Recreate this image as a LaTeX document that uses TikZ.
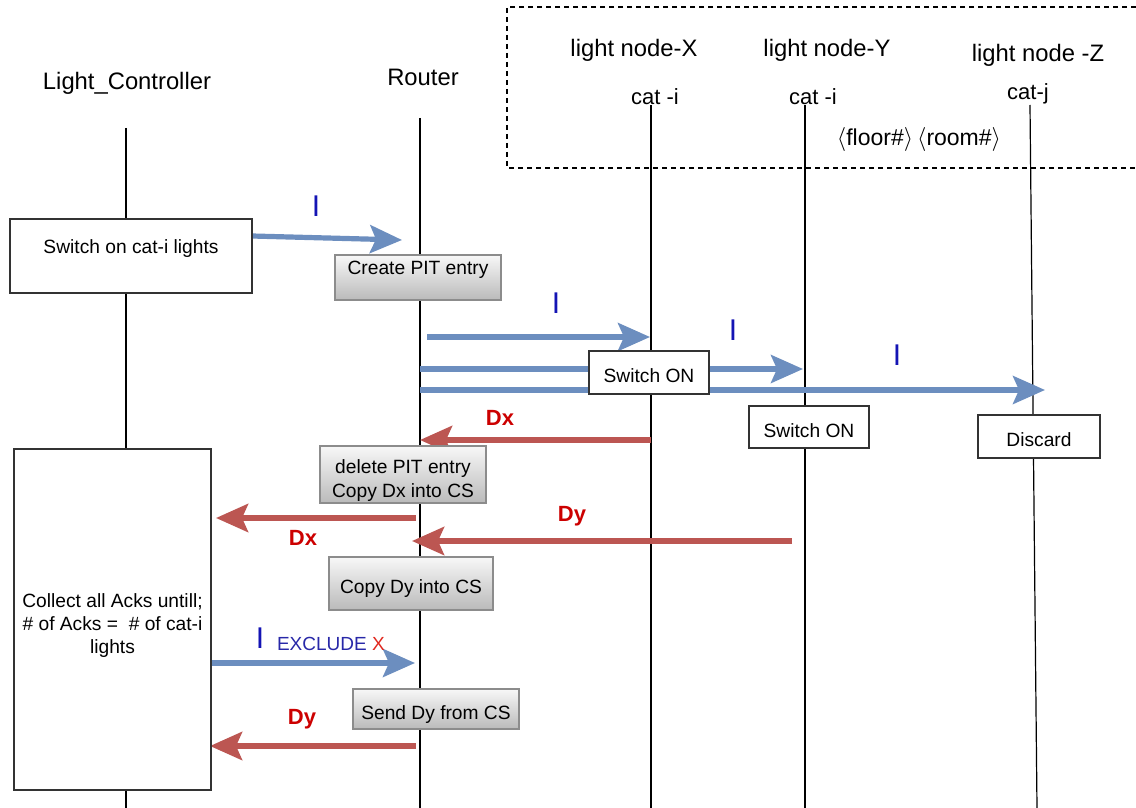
\documentclass[tikz,border=0pt]{standalone}
\usepackage{fontspec}
\setmainfont{Liberation Sans}
\usetikzlibrary{arrows.meta,positioning}
\definecolor{MsgBlue}{HTML}{6C8EBF}
\definecolor{MsgRed}{HTML}{BC5652}
\definecolor{LabRed}{HTML}{CC0000}
\definecolor{LabBlue}{HTML}{1414B4}
\definecolor{ExclBlue}{HTML}{2828A8}
\definecolor{XRed}{HTML}{E0281E}

\begin{document}
\begin{tikzpicture}[x=0.5pt,y=-0.5pt,
  every node/.style={font=\fontsize{9.6}{11.6}\selectfont},
  title/.style={font=\fontsize{11.9}{14}\selectfont},
  catlab/.style={font=\fontsize{11}{13}\selectfont},
  lifeline/.style={black,line width=0.6pt},
  actbox/.style={draw=black!80,line width=0.8pt,fill=white,inner sep=1pt},
  csbox/.style={draw=black!45,line width=0.8pt,top color=black!3,bottom color=black!27,inner sep=1pt},
  lowtext/.style={text height=12pt,text depth=2pt},
  interest/.style={MsgBlue,line width=2.6pt,-{Stealth[length=16pt,width=14pt,inset=3pt]}},
  data/.style={MsgRed,line width=2.9pt,-{Stealth[length=16pt,width=14pt,inset=3pt]}},
  ilab/.style={LabBlue,font=\fontsize{15}{15}\selectfont},
  dlab/.style={LabRed,font=\fontsize{11}{13}\bfseries\selectfont}]
 \useasboundingbox (0,0) rectangle (1136,808);
 % participants
 \draw[line width=0.6pt,dash pattern=on 2.5pt off 2pt] (1136,7) -| (507,168) -- (1136,168);
 \node[title] (tctl) at (127,83) {Light\_Controller};
 \node[title] (trt) at (423,77) {Router};
 \node[title] (tx) at (634,50) {light node-X};
 \node[title] (ty) at (827,50) {light node-Y};
 \node[title] (tz) at (1038,55) {light node -Z};
 \node[catlab] (cx) at (655,97) {cat -i};
 \node[catlab] (cy) at (813,97) {cat -i};
 \node[catlab] (cz) at (1028,94) {cat-j};
 \node[font=\fontsize{11.5}{13}\selectfont] (loc) at (919,140) {$\langle$floor\#$\rangle\,\langle$room\#$\rangle$};
 % lifelines
 \foreach \n/\x/\y in {ctl/126/128,rt/420/118,nx/651/105,ny/805/105}{
   \coordinate (\n-top) at (\x,\y);
   \coordinate (\n-bot) at (\x,808);
   \draw[lifeline] (\n-top) -- (\n-bot);}
 \coordinate (nz-top) at (1030,105);
 \coordinate (nz-bot) at (1037,808);
 \draw[lifeline] (nz-top) -- (nz-bot);
 % message end points
 \foreach \n/\x/\y in {i1a/252/236,i1b/402/240,i2a/427/337,i2b/650/337,
   i3a/420/369,i3b/803/369,i4a/420/390,i4b/1045/390,i5a/211/663,i5b/415/663,
   d1a/651/440,d1b/420/440,d2a/416/518,d2b/216/518,d3a/792/541,d3b/412/541,
   d4a/416/746,d4b/210/746}
   \coordinate (\n) at (\x,\y);
 % interests
 \draw[interest] (i1a) -- (i1b);
 \draw[interest] (i2a) -- (i2b);
 \draw[interest] (i3a) -- (i3b);
 \draw[interest] (i4a) -- (i4b);
 \draw[interest] (i5a) -- (i5b);
 \node[ilab] (li1) at (316,206) {I};
 \node[ilab] (li2) at (556,303) {I};
 \node[ilab] (li3) at (733,330) {I};
 \node[ilab] (li4) at (897,355) {I};
 \node[ilab] (li5) at (260,638) {I};
 \node[ExclBlue,font=\fontsize{9.5}{11}\selectfont,anchor=west] (lex) at (270,644) {EXCLUDE \textcolor{XRed}{X}};
 % data
 \draw[data] (d1a) -- (d1b);
 \draw[data] (d2a) -- (d2b);
 \draw[data] (d3a) -- (d3b);
 \draw[data] (d4a) -- (d4b);
 \node[dlab] (ld1) at (500,418) {Dx};
 \node[dlab] (ld2) at (303,538) {Dx};
 \node[dlab] (ld3) at (572,516) {Dy};
 \node[dlab] (ld4) at (302,719) {Dy};
 % boxes
 \node[actbox,minimum width=121pt,minimum height=37pt] (swon) at (131,256) {\raisebox{9pt}{Switch on cat-i lights}};
 \node[actbox,minimum width=98.5pt,minimum height=170.5pt,align=center] (acks) at (112.5,619.5)
   {\rule{0pt}{13pt}Collect all Acks untill;\\\# of Acks =\ \ \# of cat-i\\lights};
 \node[actbox,lowtext,minimum width=60pt,minimum height=21.5pt] (onx) at (649,372.5) {Switch ON};
 \node[actbox,lowtext,minimum width=60pt,minimum height=21pt] (ony) at (809,427) {Switch ON};
 \node[actbox,lowtext,minimum width=61pt,minimum height=21.5pt] (disc) at (1039,436.5) {Discard};
 \node[csbox,minimum width=83pt,minimum height=22.5pt] (pit) at (418,277.5) {\raisebox{9.5pt}{Create PIT entry}};
 \node[csbox,minimum width=83pt,minimum height=26.5pt,align=center] (del) at (403,474.5) {\rule{0pt}{13pt}delete PIT entry\\Copy Dx into CS};
 \node[csbox,lowtext,minimum width=82pt,minimum height=26.5pt] (cpy) at (411,583.5) {Copy Dy into CS};
 \node[csbox,lowtext,minimum width=83pt,minimum height=20pt] (snd) at (436,709) {Send Dy from CS};
\end{tikzpicture}
\end{document}
